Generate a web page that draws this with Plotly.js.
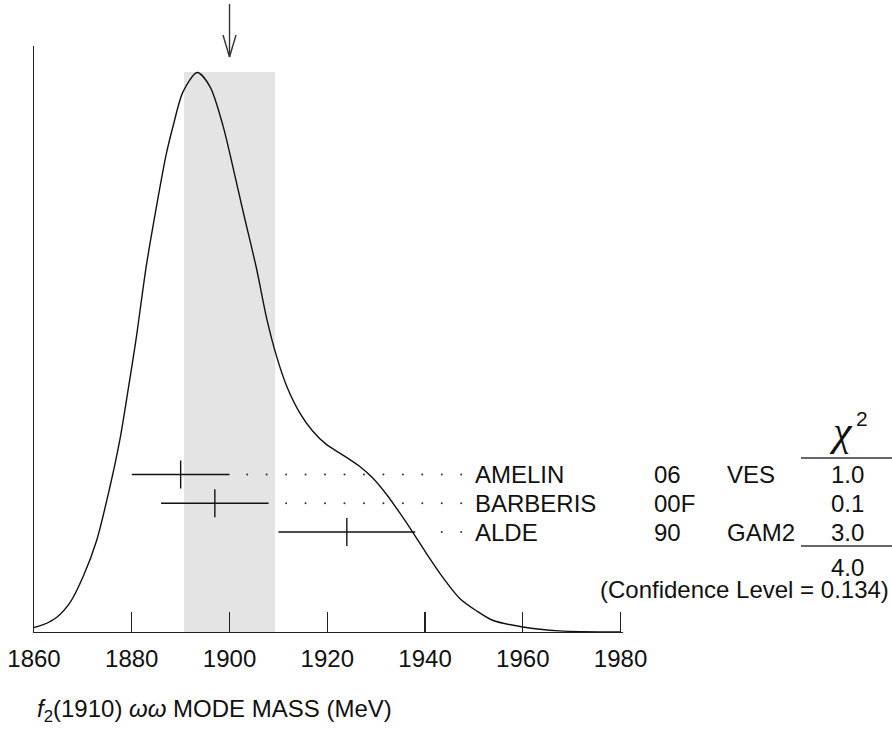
<!DOCTYPE html>
<html>
<head>
<meta charset="utf-8">
<script src="https://cdn.plot.ly/plotly-3.0.1.min.js"></script>
<style>
  html, body { margin: 0; padding: 0; background: #ffffff; }
  #chart { width: 892px; height: 732px; }
</style>
</head>
<body>
<div id="chart"></div>
<script>
// ---------------- data ----------------
const NAMES = ['AMELIN', 'BARBERIS', 'ALDE'];
const YEARS = ['06', '00F', '90'];
const TECHS = ['VES', '', 'GAM2'];
const MASS = [1890, 1897, 1924];
const ERR = [10, 11, 14];
const CHI2 = [1.0, 0.1, 3.0];
const CHI2_TOTAL = 4.0;
const CONF_LEVEL = 0.134;
const FIT_VALUE = 1900;
const FIT_ERROR = 9.3;
const TICK_VALUES = [1860, 1880, 1900, 1920, 1940, 1960, 1980];

// ideogram curve (peak normalised to 1)
const CURVE_MASS = [1860.0, 1861.9, 1864.6, 1867.4, 1870.1, 1872.8, 1875.5, 1877.6, 1879.3, 1880.3,
  1881.0, 1883.0, 1885.1, 1887.1, 1888.5, 1890.5, 1893.4, 1896.0, 1898.7, 1900.7,
  1902.8, 1905.5, 1907.6, 1909.6, 1911.7, 1914.4, 1917.0, 1919.8, 1923.2, 1926.6,
  1929.3, 1932.1, 1934.8, 1937.5, 1940.3, 1943.6, 1947.1, 1950.5, 1953.8, 1960.0,
  1967.5, 1980.0];
const CURVE_DENSITY = [0.008, 0.013, 0.026, 0.053, 0.100, 0.163, 0.258, 0.345, 0.435, 0.490,
  0.530, 0.655, 0.762, 0.855, 0.905, 0.965, 0.999, 0.974, 0.903, 0.830,
  0.750, 0.650, 0.560, 0.493, 0.439, 0.391, 0.359, 0.335, 0.316, 0.296,
  0.275, 0.246, 0.213, 0.178, 0.140, 0.098, 0.060, 0.038, 0.021, 0.009,
  0.002, 0.000];

// ---------------- layout geometry ----------------
const L = 34, T = 46, W = 589, H = 586;
const X_MIN = 1860, X_MAX = 1980.5;   // 1980 tick sits just inside the right end
const BOTTOM = T + H;            // pixel row of the x axis
const PX_PER_UNIT = 560;         // vertical pixels per density unit
const Y_MAX = H / PX_PER_UNIT;
const px2x = px => (px - L) / W;           // pixel -> paper x
const py2y = py => (BOTTOM - py) / H;      // pixel -> paper y
const ROW_TOP = (BOTTOM - 474.5) / PX_PER_UNIT;
const ROW_STEP = 28.75 / PX_PER_UNIT;
const rowY = i => ROW_TOP - i * ROW_STEP;
const DOT_END = 1947.4, DOT_STEP = 3.98, DOT_GAP = 3.0;

const FONT = 'Liberation Sans, Arial, Helvetica, sans-serif';
const INK = '#111111';

// ---------------- traces ----------------
const curve = {
  type: 'scatter', mode: 'lines',
  x: CURVE_MASS, y: CURVE_DENSITY,
  line: { color: INK, width: 1.4, shape: 'spline', smoothing: 0.8 },
  hoverinfo: 'skip'
};

const measurements = {
  type: 'scatter', mode: 'markers',
  x: MASS, y: MASS.map((_, i) => rowY(i)),
  error_x: { type: 'data', array: ERR, visible: true, color: INK, thickness: 1.4, width: 0 },
  marker: { symbol: 'line-ns', size: 20, line: { color: INK, width: 1.4 }, color: INK },
  hoverinfo: 'skip'
};

const dotX = [], dotY = [];
MASS.forEach((m, i) => {
  const hi = m + ERR[i];
  for (let x = DOT_END; x > hi + DOT_GAP; x -= DOT_STEP) { dotX.push(x); dotY.push(rowY(i)); }
});
const dots = {
  type: 'scatter', mode: 'markers', x: dotX, y: dotY,
  marker: { size: 2, color: '#333333' }, hoverinfo: 'skip'
};

// ---------------- annotations ----------------
const ann = [];
NAMES.forEach((n, i) => {
  const base = { xref: 'paper', yref: 'y', y: rowY(i), yanchor: 'middle', showarrow: false,
                 font: { family: FONT, size: 24, color: INK } };
  ann.push(Object.assign({}, base, { x: px2x(473), xanchor: 'left', text: n }));
  ann.push(Object.assign({}, base, { x: px2x(652), xanchor: 'left', text: YEARS[i] }));
  if (TECHS[i]) ann.push(Object.assign({}, base, { x: px2x(725), xanchor: 'left', text: TECHS[i] }));
  ann.push(Object.assign({}, base, { x: px2x(866), xanchor: 'right', text: CHI2[i].toFixed(1) }));
});
ann.push({ xref: 'paper', yref: 'paper', x: px2x(866), y: py2y(567), xanchor: 'right', yanchor: 'middle',
  showarrow: false, text: CHI2_TOTAL.toFixed(1), font: { family: FONT, size: 24, color: INK } });
ann.push({ xref: 'paper', yref: 'paper', x: px2x(891), y: py2y(589), xanchor: 'right', yanchor: 'middle',
  showarrow: false, text: '(Confidence Level = ' + CONF_LEVEL.toFixed(3) + ')',
  font: { family: FONT, size: 24, color: INK } });
ann.push({ xref: 'paper', yref: 'paper', x: px2x(841), y: py2y(431), xanchor: 'center', yanchor: 'middle',
  showarrow: false, text: '<i>χ</i>', font: { family: 'Liberation Serif, Times New Roman, serif', size: 42, color: INK } });
ann.push({ xref: 'paper', yref: 'paper', x: px2x(862), y: py2y(418), xanchor: 'center', yanchor: 'middle',
  showarrow: false, text: '2', font: { family: FONT, size: 21, color: INK } });
ann.push({ xref: 'paper', yref: 'paper', x: px2x(35), y: py2y(710), xanchor: 'left', yanchor: 'middle',
  showarrow: false, text: '<i>f</i><sub>2</sub>(1910) <i>ωω</i> MODE MASS (MeV)',
  font: { family: FONT, size: 24, color: INK } });

// ---------------- shapes ----------------
const shapes = [
  { type: 'rect', xref: 'x', yref: 'y', x0: FIT_VALUE - FIT_ERROR, x1: FIT_VALUE + FIT_ERROR,
    y0: 0, y1: 1.0, fillcolor: '#e4e4e4', line: { width: 0 }, layer: 'below' },
  // arrow marking the fitted value
  { type: 'line', xref: 'x', yref: 'paper', x0: FIT_VALUE, x1: FIT_VALUE, y0: py2y(57), y1: py2y(4),
    line: { color: '#333333', width: 1.4 } },
  { type: 'line', xref: 'x', xsizemode: 'pixel', xanchor: FIT_VALUE, x0: -6.5, x1: 0,
    yref: 'paper', y0: py2y(35), y1: py2y(57), line: { color: '#333333', width: 1.4 } },
  { type: 'line', xref: 'x', xsizemode: 'pixel', xanchor: FIT_VALUE, x0: 6.5, x1: 0,
    yref: 'paper', y0: py2y(35), y1: py2y(57), line: { color: '#333333', width: 1.4 } },
  // chi-square table rules
  { type: 'line', xref: 'paper', yref: 'paper', x0: px2x(801), x1: px2x(892), y0: py2y(458), y1: py2y(458),
    line: { color: '#333333', width: 1.4 } },
  { type: 'line', xref: 'paper', yref: 'paper', x0: px2x(801), x1: px2x(892), y0: py2y(546), y1: py2y(546),
    line: { color: '#333333', width: 1.4 } }
];

const layout = {
  width: 892, height: 732,
  margin: { l: L, r: 892 - L - W, t: T, b: 732 - BOTTOM, pad: 0 },
  paper_bgcolor: '#ffffff', plot_bgcolor: 'rgba(0,0,0,0)',
  showlegend: false,
  xaxis: {
    range: [X_MIN, X_MAX], tickvals: TICK_VALUES, ticktext: TICK_VALUES.map(String),
    ticks: 'inside', ticklen: 20, tickwidth: 1.4, tickcolor: '#222222',
    showline: true, linecolor: '#222222', linewidth: 1.4,
    showgrid: false, zeroline: false, fixedrange: true,
    tickfont: { family: FONT, size: 24, color: INK }, ticklabelstandoff: 5
  },
  yaxis: {
    range: [0, Y_MAX], showline: true, linecolor: '#222222', linewidth: 1.4,
    showticklabels: false, ticks: '', showgrid: false, zeroline: false, fixedrange: true
  },
  shapes: shapes,
  annotations: ann
};

Plotly.newPlot('chart', [curve, measurements, dots], layout, { displayModeBar: false, staticPlot: true });
</script>
</body>
</html>
